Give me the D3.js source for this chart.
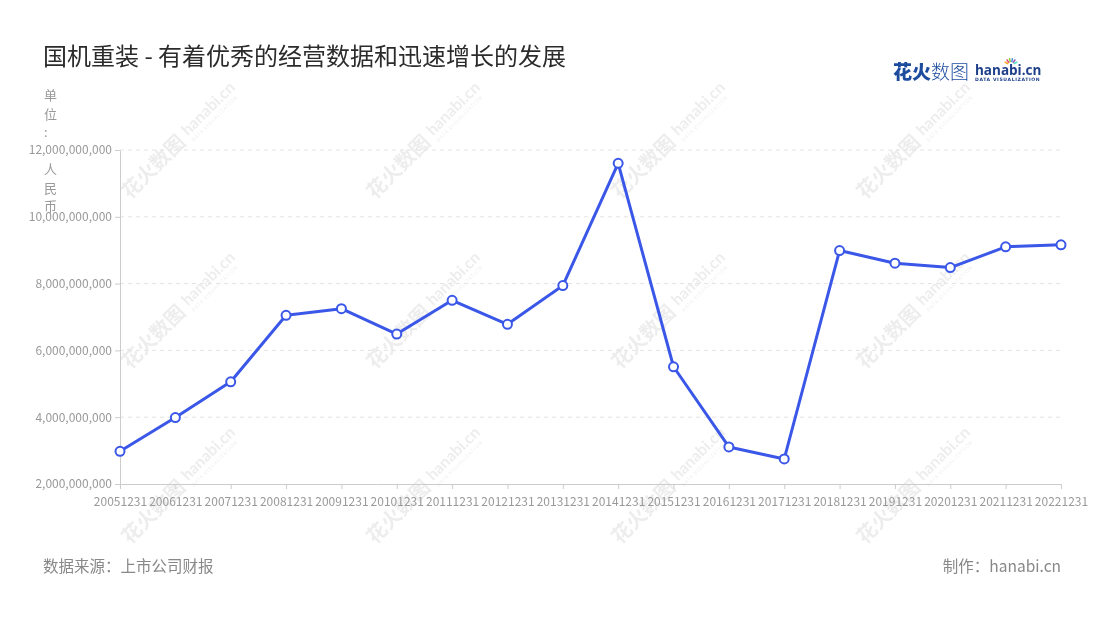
<!DOCTYPE html>
<html>
<head>
<meta charset="utf-8">
<script src="https://cdn.jsdelivr.net/npm/d3@7"></script>
<style>
  html, body { margin: 0; padding: 0; background: #fff; }
  svg { display: block; font-family: "Noto Sans CJK SC", "Noto Sans", sans-serif; }
</style>
</head>
<body>
<svg id="chart" width="1100" height="620"></svg>
<script>
const categories = ["20051231","20061231","20071231","20081231","20091231","20101231","20111231","20121231","20131231","20141231","20151231","20161231","20171231","20181231","20191231","20201231","20211231","20221231"];
const revenue = [2.98e9, 3.99e9, 5.06e9, 7.05e9, 7.25e9, 6.49e9, 7.50e9, 6.78e9, 7.94e9, 11.60e9, 5.51e9, 3.11e9, 2.75e9, 8.99e9, 8.61e9, 8.48e9, 9.10e9, 9.16e9];
const yTicks = [2e9, 4e9, 6e9, 8e9, 10e9, 12e9];
const title = "国机重装 - 有着优秀的经营数据和迅速增长的发展";
const unitLabel = ["单", "位", ":", " ", "人", "民", "币"];
const sourceText = "数据来源：上市公司财报";
const makerText = "制作：hanabi.cn";

const svg = d3.select("#chart");
const x = d3.scalePoint().domain(categories).range([120, 1061]);
const y = d3.scaleLinear().domain([2e9, 12e9]).range([484, 150]);

// watermarks
const wmX = [130, 375, 620, 865];
const wmY = [200, 370, 545];
const wmLayer = svg.append("g").attr("opacity", 0.09);
wmX.forEach(wx => wmY.forEach(wy => {
  const g = wmLayer.append("g").attr("transform", `translate(${wx},${wy}) rotate(-45)`);
  g.append("text").attr("x", 0).attr("y", 0).attr("font-size", 20).attr("font-weight", 700)
    .attr("fill", "#333").text("花火数图");
  g.append("text").attr("x", 86).attr("y", -4).attr("font-size", 16).attr("font-weight", 700)
    .attr("font-family", "Lato, sans-serif").attr("fill", "#333").text("hanabi.cn");
  g.append("text").attr("x", 86).attr("y", 4).attr("font-size", 5).attr("letter-spacing", 0.8)
    .attr("fill", "#333").text("DATA VISUALIZATION");
}));

// gridlines
svg.append("g").selectAll("line").data(yTicks.filter(d => d > 2e9)).join("line")
  .attr("x1", 120).attr("x2", 1061)
  .attr("y1", d => y(d)).attr("y2", d => y(d))
  .attr("stroke", "#e3e3e3").attr("stroke-width", 1).attr("stroke-dasharray", "4,4");

// y axis
const yAxis = svg.append("g").attr("transform", "translate(120,0)")
  .call(d3.axisLeft(y).tickValues(yTicks).tickFormat(d3.format(",")).tickSize(5).tickSizeOuter(0));
yAxis.select(".domain").attr("stroke", "#ccc");
yAxis.selectAll(".tick line").attr("stroke", "#ccc");
yAxis.selectAll(".tick text").attr("fill", "#999").attr("font-size", 12)
  .attr("font-family", "'Noto Sans CJK SC', sans-serif");

// x axis
const xAxis = svg.append("g").attr("transform", "translate(0,484)")
  .call(d3.axisBottom(x).tickSize(5).tickSizeOuter(0));
xAxis.select(".domain").attr("stroke", "#ccc");
xAxis.selectAll(".tick line").attr("stroke", "#ccc");
xAxis.selectAll(".tick text").attr("fill", "#999").attr("font-size", 12)
  .attr("font-family", "'Noto Sans CJK SC', sans-serif")
  .attr("y", 22).attr("dy", 0);

// unit label (vertical)
const unit = svg.append("text").attr("fill", "#999").attr("font-size", 13);
unitLabel.forEach((c, i) => {
  unit.append("tspan").attr("x", 44).attr("y", 100 + i * 18.5).text(c);
});

// line
const line = d3.line().x((d, i) => x(categories[i])).y(d => y(d));
svg.append("path").datum(revenue).attr("d", line)
  .attr("fill", "none").attr("stroke", "#3a57e8").attr("stroke-width", 3)
  .attr("stroke-linejoin", "round");
svg.append("g").selectAll("circle").data(revenue).join("circle")
  .attr("cx", (d, i) => x(categories[i])).attr("cy", d => y(d)).attr("r", 4.5)
  .attr("fill", "#fff").attr("stroke", "#3a57e8").attr("stroke-width", 2);

// title
svg.append("text").attr("x", 43).attr("y", 65).attr("font-size", 24).attr("fill", "#2b2b2b")
  .text(title);

// footer
svg.append("text").attr("x", 43).attr("y", 572).attr("font-size", 15.5).attr("fill", "#888")
  .text(sourceText);
svg.append("text").attr("x", 1061).attr("y", 572).attr("font-size", 15.5).attr("fill", "#888")
  .attr("text-anchor", "end").text(makerText);

// logo
const logo = svg.append("g");
logo.append("text").attr("x", 893).attr("y", 79).attr("font-size", 19).attr("font-weight", 900)
  .attr("fill", "#1d4c9e").text("花火");
logo.append("text").attr("x", 931).attr("y", 79).attr("font-size", 19).attr("font-weight", 300)
  .attr("fill", "#1d4c9e").text("数图");
logo.append("text").attr("x", 975).attr("y", 75).attr("font-size", 13.5).attr("font-weight", 700)
  .attr("font-family", "'Open Sans', sans-serif").attr("fill", "#1d3f8a").text("hanabi.cn");
logo.append("text").attr("x", 975).attr("y", 81).attr("font-size", 4.6).attr("letter-spacing", 0.6)
  .attr("font-family", "'DejaVu Sans', sans-serif").attr("font-weight", 700).attr("fill", "#1d3f8a").text("DATA VISUALIZATION");
const sparkColors = ["#f5a623", "#e94e77", "#7ed321", "#4a90e2", "#9b59b6", "#50e3c2"];
sparkColors.forEach((c, i) => {
  const a = -Math.PI / 2 + (i - 2.5) * 0.45;
  logo.append("line").attr("x1", 1011 + Math.cos(a) * 3).attr("y1", 65 + Math.sin(a) * 3)
    .attr("x2", 1011 + Math.cos(a) * 7).attr("y2", 65 + Math.sin(a) * 7)
    .attr("stroke", c).attr("stroke-width", 1.5);
});
</script>
</body>
</html>
